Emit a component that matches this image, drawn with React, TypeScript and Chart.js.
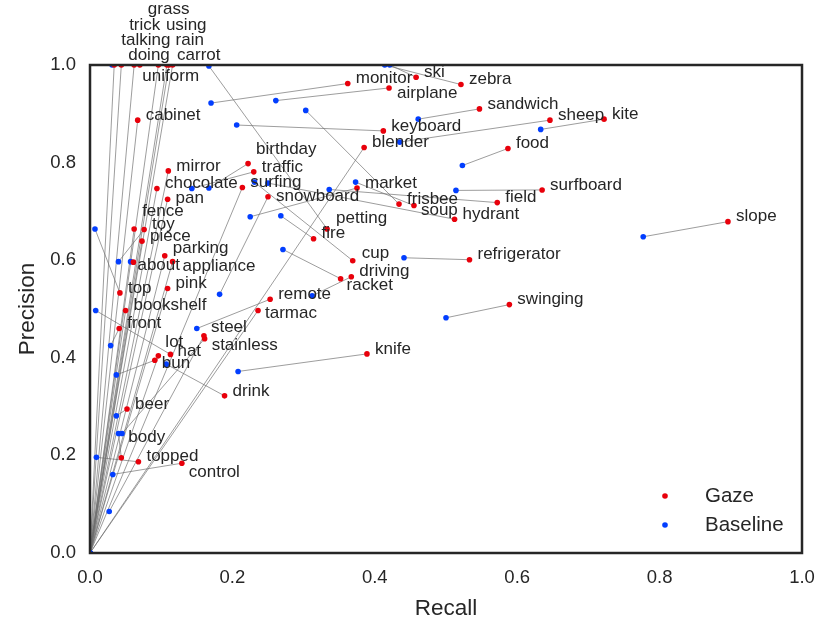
import { useEffect, useRef } from "react";
import { Chart, registerables } from "chart.js";

Chart.register(...registerables);

// ---------------- data ----------------
const words = [
  "doing", "talking", "trick", "grass", "uniform", "using", "rain", "carrot",
  "cabinet", "mirror", "birthday", "traffic", "chocolate", "surfing", "snowboard", "pan",
  "fence", "toy", "piece", "parking", "appliance", "about", "top", "pink",
  "bookshelf", "front", "lot", "hat", "bun", "steel", "stainless", "remote",
  "tarmac", "drink", "beer", "body", "topped", "control", "knife", "swinging",
  "refrigerator", "cup", "driving", "racket", "fire", "petting", "hydrant", "soup",
  "frisbee", "field", "market", "surfboard", "slope", "food", "blender", "keyboard",
  "sheep", "kite", "sandwich", "airplane", "monitor", "ski", "zebra",
];

const gazeRecall = [
  0.034, 0.044, 0.062, 0.070, 0.096, 0.108, 0.116, 0.111,
  0.067, 0.110, 0.222, 0.230, 0.094, 0.214, 0.250, 0.109,
  0.062, 0.076, 0.073, 0.105, 0.116, 0.061, 0.042, 0.109,
  0.050, 0.041, 0.096, 0.113, 0.091, 0.160, 0.161, 0.253,
  0.236, 0.189, 0.052, 0.044, 0.068, 0.129, 0.389, 0.589,
  0.533, 0.369, 0.367, 0.352, 0.314, 0.333, 0.512, 0.455,
  0.434, 0.572, 0.375, 0.635, 0.896, 0.587, 0.385, 0.412,
  0.646, 0.722, 0.547, 0.420, 0.362, 0.458, 0.521,
];

const gazePrecision = [
  1.0, 1.0, 1.0, 1.0, 1.0, 1.0, 1.0, 1.0,
  0.887, 0.783, 0.798, 0.781, 0.747, 0.749, 0.730, 0.725,
  0.664, 0.663, 0.639, 0.609, 0.597, 0.596, 0.533, 0.542,
  0.497, 0.460, 0.404, 0.407, 0.395, 0.445, 0.439, 0.520,
  0.497, 0.322, 0.295, 0.195, 0.187, 0.184, 0.408, 0.509,
  0.601, 0.599, 0.566, 0.562, 0.644, 0.664, 0.684, 0.712,
  0.715, 0.718, 0.748, 0.744, 0.679, 0.829, 0.831, 0.865,
  0.887, 0.889, 0.910, 0.953, 0.962, 0.975, 0.960,
];

const baselineRecall = [
  0, 0, 0, 0.031, 0, 0, 0, 0,
  0, 0, 0.167, 0.143, 0, 0, 0.182, 0,
  0, 0.040, 0, 0, 0, 0.057, 0.007, 0,
  0, 0.029, 0, 0.008, 0.037, 0.027, 0.045, 0.150,
  0, 0.107, 0.037, 0.040, 0.009, 0.032, 0.208, 0.500,
  0.441, 0.231, 0.312, 0.271, 0.268, 0.167, 0.250, 0.373,
  0.303, 0.336, 0.225, 0.514, 0.777, 0.523, 0, 0.206,
  0.435, 0.633, 0.461, 0.261, 0.170, 0.421, 0.414,
];

const baselinePrecision = [
  0, 0, 0, 1.0, 0, 0, 0, 0,
  0, 0, 0.748, 0.747, 0, 0, 0.530, 0,
  0, 0.597, 0, 0, 0, 0.597, 0.664, 0,
  0, 0.425, 0, 0.497, 0.365, 0.085, 0.245, 0.460,
  0, 0.387, 0.281, 0.245, 0.196, 0.161, 0.372, 0.482,
  0.605, 0.760, 0.527, 0.622, 0.691, 0.998, 0.758, 0.760,
  0.907, 0.745, 0.689, 0.743, 0.648, 0.794, 0, 0.877,
  0.842, 0.868, 0.889, 0.927, 0.922, 1.0, 1.0,
];

const seriesNames = ["Gaze", "Baseline"];
const axisTicks = [0, 0.2, 0.4, 0.6, 0.8, 1.0];

// ---------------- layout / style ----------------
const W = 831;
const H = 638;
const FONT = "'Liberation Sans', Arial, Helvetica, sans-serif";
const TEXT = "#262626";
const RED = "#e8000b";
const BLUE = "#023eff";

// label offsets in pixels (text left edge / vertical middle relative to the point)
const DEFAULT_OFFSET: [number, number] = [8, -5];
const labelOffsets: Record<string, [number, number]> = {
  grass: [8, -56],
  trick: [-5, -40],
  using: [-1, -40],
  talking: [0, -25],
  rain: [3, -25],
  doing: [14, -10],
  carrot: [8, -10],
  uniform: [-16, 11],
  birthday: [8, -14],
  snowboard: [8, 0],
  pan: [8, -1],
  fence: [8, -18],
  parking: [8, -7],
  appliance: [10, 5],
  about: [4, 3],
  lot: [7, -14],
  hat: [7, -3],
  bun: [7, 3],
  steel: [7, -9],
  stainless: [7, 7],
  tarmac: [7, 3],
  body: [7, -21],
  control: [7, 9],
  cup: [9, -7],
  racket: [6, 7],
  petting: [9, -11],
  soup: [7, 5],
  airplane: [8, 5],
};

export default function App() {
  const ref = useRef<HTMLCanvasElement | null>(null);

  useEffect(() => {
    if (!ref.current) return;
    document.body.style.margin = "0";

    const gaze = gazeRecall.map((r, i) => ({ x: r, y: gazePrecision[i] }));
    const base = baselineRecall.map((r, i) => ({ x: r, y: baselinePrecision[i] }));

    const overlay = {
      id: "overlay",
      beforeDatasetsDraw(chart: any) {
        const { ctx, scales } = chart;
        const xs = scales.x;
        const ys = scales.y;
        ctx.save();
        ctx.strokeStyle = "rgba(110,110,110,0.85)";
        ctx.lineWidth = 0.8;
        for (let i = 0; i < words.length; i++) {
          ctx.beginPath();
          ctx.moveTo(xs.getPixelForValue(baselineRecall[i]), ys.getPixelForValue(baselinePrecision[i]));
          ctx.lineTo(xs.getPixelForValue(gazeRecall[i]), ys.getPixelForValue(gazePrecision[i]));
          ctx.stroke();
        }
        ctx.restore();
      },
      afterDatasetsDraw(chart: any) {
        const { ctx, scales, chartArea } = chart;
        const xs = scales.x;
        const ys = scales.y;
        ctx.save();
        // frame
        ctx.strokeStyle = TEXT;
        ctx.lineWidth = 2.5;
        ctx.strokeRect(chartArea.left, chartArea.top, chartArea.right - chartArea.left, chartArea.bottom - chartArea.top);
        // word labels
        ctx.fillStyle = TEXT;
        ctx.font = `17px ${FONT}`;
        ctx.textAlign = "left";
        ctx.textBaseline = "middle";
        for (let i = 0; i < words.length; i++) {
          const off = labelOffsets[words[i]] || DEFAULT_OFFSET;
          const px = xs.getPixelForValue(gazeRecall[i]);
          const py = ys.getPixelForValue(gazePrecision[i]);
          ctx.fillText(words[i], px + off[0], py + off[1]);
        }
        // legend
        const colors = [RED, BLUE];
        ctx.font = `20.5px ${FONT}`;
        const lx = chartArea.right - 137;
        const ly = chartArea.bottom - 57;
        seriesNames.forEach((name, k) => {
          const y = ly + k * 29;
          ctx.fillStyle = colors[k];
          ctx.beginPath();
          ctx.arc(lx, y, 2.8, 0, Math.PI * 2);
          ctx.fill();
          ctx.fillStyle = TEXT;
          ctx.fillText(name, lx + 40, y);
        });
        ctx.restore();
      },
    };

    const chart = new Chart(ref.current, {
      type: "scatter",
      data: {
        datasets: [
          {
            label: seriesNames[0],
            data: gaze,
            backgroundColor: RED,
            borderWidth: 0,
            pointRadius: 2.8,
            clip: 0 as any,
          },
          {
            label: seriesNames[1],
            data: base,
            backgroundColor: BLUE,
            borderWidth: 0,
            pointRadius: 2.8,
            clip: 0 as any,
          },
        ],
      },
      options: {
        animation: false,
        responsive: false,
        devicePixelRatio: 1,
        layout: { padding: { top: 65, right: 29, left: 0, bottom: 0 } },
        plugins: { legend: { display: false }, tooltip: { enabled: false } },
        scales: {
          x: {
            type: "linear",
            min: 0,
            max: 1,
            afterFit: (s: any) => { s.height = 85; },
            afterBuildTicks: (s: any) => { s.ticks = axisTicks.map((v) => ({ value: v })); },
            grid: { display: false, drawTicks: false },
            border: { display: false },
            ticks: {
              padding: 14,
              color: TEXT,
              font: { size: 18.5, family: FONT },
              callback: (v: any) => Number(v).toFixed(1),
            },
            title: {
              display: true,
              text: "Recall",
              color: TEXT,
              font: { size: 22.5, family: FONT },
              padding: { top: 0, bottom: 16 },
            },
          },
          y: {
            type: "linear",
            min: 0,
            max: 1,
            afterFit: (s: any) => { s.width = 90; },
            afterBuildTicks: (s: any) => { s.ticks = axisTicks.map((v) => ({ value: v })); },
            grid: { display: false, drawTicks: false },
            border: { display: false },
            ticks: {
              padding: 14,
              color: TEXT,
              font: { size: 18.5, family: FONT },
              callback: (v: any) => Number(v).toFixed(1),
            },
            title: {
              display: true,
              text: "Precision",
              color: TEXT,
              font: { size: 22.5, family: FONT },
              padding: { top: 14, bottom: 0 },
            },
          },
        },
      },
      plugins: [overlay],
    });

    return () => chart.destroy();
  }, []);

  return (
    <div style={{ position: "absolute", left: 0, top: 0, width: W, height: H, background: "#fff" }}>
      <canvas ref={ref} width={W} height={H} style={{ display: "block" }} />
    </div>
  );
}
